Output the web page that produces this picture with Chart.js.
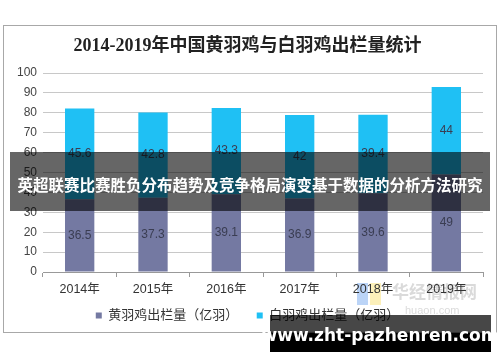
<!DOCTYPE html>
<html>
<head>
<meta charset="utf-8">
<script src="https://cdn.jsdelivr.net/npm/chart.js@4"></script>
<style>
  html, body { margin: 0; padding: 0; background: #fff; }
  canvas { display: block; }
</style>
</head>
<body>
<canvas id="grafico" width="500" height="362"></canvas>
<script>
// dados
const anos = ['2014年', '2015年', '2016年', '2017年', '2018年', '2019年'];
const huangYu = [36.5, 37.3, 39.1, 36.9, 39.6, 49];   // 黄羽鸡出栏量（亿羽）
const baiYu = [45.6, 42.8, 43.3, 42, 39.4, 44];       // 白羽鸡出栏量（亿羽）
const titulo = '2014-2019年中国黄羽鸡与白羽鸡出栏量统计';
const faixaTexto = '英超联赛比赛胜负分布趋势及竞争格局演变基于数据的分析方法研究';
const marcaDagua = 'www.zht-pazhenren.com';

const fonteSans = '"Liberation Sans", "Noto Sans CJK SC", sans-serif';

const moldura = {
  id: 'moldura',
  beforeDraw(chart) {
    const ctx = chart.ctx;
    ctx.save();
    ctx.fillStyle = '#fff';
    ctx.fillRect(0, 0, chart.width, chart.height);
    ctx.strokeStyle = '#a8a8a8';
    ctx.lineWidth = 1;
    ctx.strokeRect(3.5, 25.5, 493, 307);
    // logo apagado
    ctx.fillStyle = 'rgba(150,150,150,0.35)';
    ctx.font = 'bold 17px "Noto Sans CJK SC", sans-serif';
    ctx.textAlign = 'left';
    ctx.textBaseline = 'middle';
    ctx.fillText('华经情报网', 392, 292);
    ctx.font = '11px ' + fonteSans;
    ctx.fillText('huaon.com', 405, 311);
    ctx.fillStyle = 'rgba(120,170,240,0.5)';
    ctx.fillRect(357, 283, 11, 22);
    ctx.fillStyle = 'rgba(250,230,140,0.6)';
    ctx.fillRect(370, 283, 11, 22);
    ctx.restore();
  }
};

const rotulos = {
  id: 'rotulos',
  afterDatasetsDraw(chart) {
    const ctx = chart.ctx;
    ctx.save();
    ctx.font = '12px ' + fonteSans;
    ctx.fillStyle = '#3a3d52';
    ctx.textAlign = 'center';
    ctx.textBaseline = 'middle';
    chart.data.datasets.forEach((ds, i) => {
      chart.getDatasetMeta(i).data.forEach((bar, j) => {
        ctx.fillText(String(ds.data[j]), bar.x, (bar.y + bar.base) / 2);
      });
    });
    ctx.restore();
  }
};

const sobreposicao = {
  id: 'sobreposicao',
  afterDraw(chart) {
    const ctx = chart.ctx;
    ctx.save();
    ctx.fillStyle = 'rgba(0,0,0,0.6)';
    ctx.fillRect(10, 152, 480, 59);
    ctx.fillStyle = '#fff';
    ctx.font = 'bold 15.5px "Noto Sans CJK SC", sans-serif';
    ctx.textAlign = 'center';
    ctx.textBaseline = 'middle';
    ctx.fillText(faixaTexto, 250, 185);

    ctx.fillStyle = 'rgba(0,0,0,0.72)';
    ctx.fillRect(270, 315, 221, 18);
    ctx.fillStyle = '#000';
    ctx.fillRect(270, 333, 221, 19);
    ctx.fillStyle = '#fff';
    ctx.font = 'bold 17px "DejaVu Sans", sans-serif';
    ctx.fillText(marcaDagua, 380, 337);
    ctx.restore();
  }
};

new Chart(document.getElementById('grafico'), {
  type: 'bar',
  data: {
    labels: anos,
    datasets: [
      { label: '黄羽鸡出栏量（亿羽）', data: huangYu, backgroundColor: '#7479a2',
        categoryPercentage: 1, barPercentage: 0.4 },
      { label: '白羽鸡出栏量（亿羽）', data: baiYu, backgroundColor: '#1fc0f4',
        categoryPercentage: 1, barPercentage: 0.4 }
    ]
  },
  options: {
    responsive: false,
    animation: false,
    layout: { padding: { top: 36, left: 12, right: 17, bottom: 30 } },
    plugins: {
      title: {
        display: true,
        text: titulo,
        color: '#222',
        font: { family: '"Liberation Serif", "Noto Sans CJK SC", serif', size: 18, weight: 'bold' },
        padding: { top: 0, bottom: 15.4 }
      },
      legend: {
        position: 'bottom',
        labels: {
          color: '#333',
          font: { family: fonteSans, size: 13 },
          boxWidth: 6, boxHeight: 6,
          padding: 4,
          generateLabels(chart) {
            const itens = Chart.defaults.plugins.legend.labels.generateLabels(chart);
            itens[0].text += '    ';
            return itens;
          }
        }
      },
      tooltip: { enabled: false }
    },
    scales: {
      x: {
        stacked: true,
        afterFit(s) { s.height = 33; },
        grid: { offset: true, drawOnChartArea: false, tickLength: 5, color: '#999' },
        border: { color: '#999' },
        ticks: { color: '#333', font: { family: fonteSans, size: 12.5 }, padding: 5 }
      },
      y: {
        stacked: true,
        min: 0, max: 100,
        afterFit(s) { s.width = 31; },
        grid: { color: '#c8c8c8', drawTicks: false },
        border: { display: false },
        ticks: { stepSize: 10, color: '#444', font: { family: fonteSans, size: 12 }, padding: 6 }
      }
    }
  },
  plugins: [moldura, rotulos, sobreposicao]
});
</script>
</body>
</html>
